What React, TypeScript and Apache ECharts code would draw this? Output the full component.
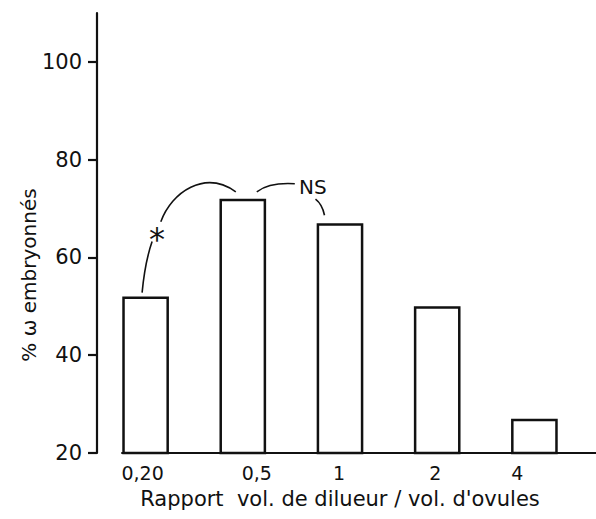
import React, { useEffect, useRef } from "react";
import * as echarts from "echarts";

const categories = ["0,20", "0,5", "1", "2", "4"];
const values = [52, 72, 67, 50, 27];
const yTicks = [20, 40, 60, 80, 100];
const yTitle = "% ω embryonnés";
const xTitle = "Rapport  vol. de dilueur / vol. d'ovules";
const sigLabels = ["*", "NS"];

// horizontal nudges of tick labels (px), as hand-lettered in the original
const labelNudge = [-3, 14, -1, -2, -17];

const FONT = "DejaVu Sans";
const INK = "#111";

export default function App() {
  const ref = useRef<HTMLDivElement>(null);

  useEffect(() => {
    document.body.style.margin = "0";
    const chart = echarts.init(ref.current!, null, { renderer: "svg" });

    const rich: Record<string, any> = {};
    labelNudge.forEach((d, i) => {
      rich["r" + i] = {
        fontFamily: FONT,
        fontSize: 19,
        color: INK,
        padding: d >= 0 ? [0, 0, 0, 2 * d] : [0, -2 * d, 0, 0],
      };
    });

    chart.setOption({
      animation: false,
      backgroundColor: "#fff",
      grid: { left: 97, right: 13, top: 13, bottom: 66, containLabel: false },
      xAxis: {
        type: "category",
        data: categories,
        axisLine: { show: false },
        axisTick: { show: false },
        axisLabel: {
          margin: 10,
          formatter: (v: string) => {
            const i = categories.indexOf(v);
            return "{r" + i + "|" + v + "}";
          },
          rich,
        },
        name: xTitle,
        nameLocation: "middle",
        nameGap: 35,
        nameTextStyle: { fontFamily: FONT, fontSize: 21, color: INK },
      },
      yAxis: {
        type: "value",
        min: 20,
        max: 110,
        interval: 20,
        splitLine: { show: false },
        axisLine: { show: true, lineStyle: { color: INK, width: 2.2 } },
        axisTick: {
          show: true,
          length: 9,
          customValues: yTicks,
          lineStyle: { color: INK, width: 2.2 },
        },
        axisLabel: {
          customValues: yTicks,
          margin: 15,
          fontFamily: FONT,
          fontSize: 21,
          color: INK,
        },
      },
      series: [
        {
          type: "bar",
          data: values,
          barWidth: "48%",
          itemStyle: { color: "#fff", borderColor: INK, borderWidth: 2.5 },
        },
      ],
    });

    const px = (i: number, v: number) =>
      chart.convertToPixel({ gridIndex: 0 }, [categories[i], v]) as number[];
    const p0 = px(0, values[0]);
    const p1 = px(1, values[1]);
    const p2 = px(2, values[2]);
    const base0 = px(0, 20);
    const band = px(1, 20)[0] - base0[0];
    const half = (band * 0.48) / 2;
    const W = chart.getWidth();

    const stroke = { stroke: INK, lineWidth: 1.6, fill: "none" };
    const bez = (
      a: number[],
      sx: number, sy: number,
      c1x: number, c1y: number,
      c2x: number, c2y: number,
      ex: number, ey: number
    ) => ({
      type: "bezierCurve",
      silent: true,
      shape: {
        x1: a[0] + sx, y1: a[1] + sy,
        cpx1: a[0] + c1x, cpy1: a[1] + c1y,
        cpx2: a[0] + c2x, cpy2: a[1] + c2y,
        x2: a[0] + ex, y2: a[1] + ey,
      },
      style: stroke,
    });

    chart.setOption({
      graphic: [
        {
          type: "line",
          silent: true,
          shape: { x1: base0[0] - half - 1, y1: base0[1], x2: W, y2: base0[1] },
          style: { stroke: INK, lineWidth: 2.2 },
        },
        bez(p0, -3.5, -4, -1.5, -25, 2, -42, 6.5, -55),
        {
          type: "text",
          silent: true,
          x: p0[0] + 11.5,
          y: p0[1] - 58,
          style: {
            text: sigLabels[0],
            fontFamily: FONT,
            fontSize: 32,
            fill: INK,
            align: "center",
            verticalAlign: "middle",
          },
        },
        bez(p1, -82, 23, -71, -7, -38, -29, -7, -7),
        bez(p1, 14, -7, 22, -13, 36, -16, 52, -15),
        {
          type: "text",
          silent: true,
          x: p1[0] + 70,
          y: p1[1] - 12,
          style: {
            text: sigLabels[1],
            fontFamily: FONT,
            fontSize: 20,
            fill: INK,
            align: "center",
            verticalAlign: "middle",
          },
        },
        bez(p2, -24.5, -24, -20.5, -21, -17, -15, -15.5, -8),
        {
          type: "text",
          silent: true,
          x: 29,
          y: 275,
          rotation: Math.PI / 2,
          style: {
            text: yTitle,
            fontFamily: FONT,
            fontSize: 20,
            fill: INK,
            align: "center",
            verticalAlign: "middle",
          },
        },
      ],
    });

    return () => chart.dispose();
  }, []);

  return <div ref={ref} style={{ width: 596, height: 519 }} />;
}
